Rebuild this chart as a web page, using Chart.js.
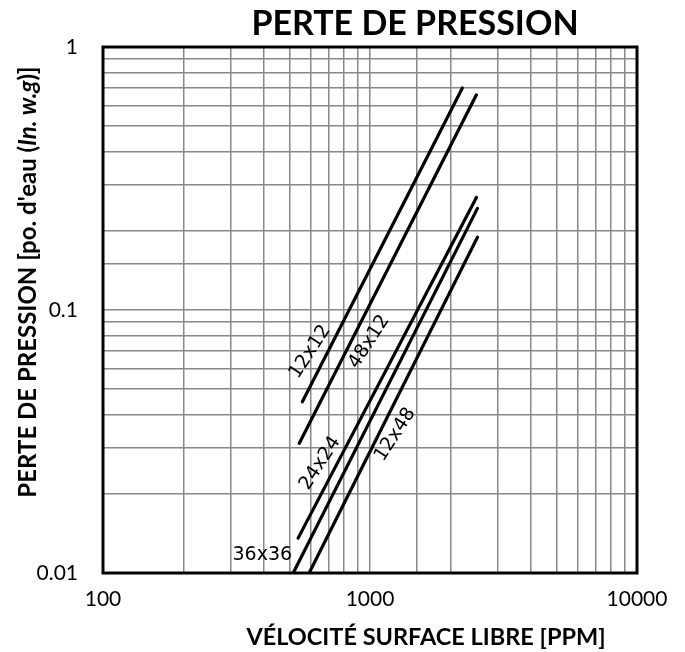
<!DOCTYPE html>
<html>
<head>
<meta charset="utf-8">
<title>Perte de pression</title>
<script src="https://cdn.jsdelivr.net/npm/chart.js"></script>
<style>
    body { margin: 0; background: #fff; }
    #wrap { width: 685px; height: 652px; }
</style>
</head>
<body>
<div id="wrap"><canvas id="chart" width="685" height="652"></canvas></div>
<script>
// each filter size is a straight line on the log-log grid: start and end points
const sizes = ['12x12', '48x12', '24x24', '36x36', '12x48'];
const velStart = [558, 543, 538, 500, 570];      // PPM
const velEnd = [2218, 2504, 2504, 2526, 2526];
const dropStart = [0.0448, 0.0311, 0.01357, 0.0094, 0.00927];  // in. w.g
const dropEnd = [0.699, 0.658, 0.268, 0.2434, 0.189];

// where the size labels sit (data units) and their rotation
const labelVel = [597, 994, 651, 395, 1244];
const labelDrop = [0.0693, 0.0757, 0.0261, 0.0117, 0.0336];
const labelAngle = [-57, -57, -57, 0, -57];

const xTicks = [100, 1000, 10000];
const yTicks = [0.01, 0.1, 1];

const datasets = sizes.map((s, i) => ({
    label: s,
    data: [{x: velStart[i], y: dropStart[i]}, {x: velEnd[i], y: dropEnd[i]}],
    borderColor: '#000',
    borderWidth: 3.2,
    borderCapStyle: 'round',
    pointRadius: 0,
    fill: false
}));

function pickLabel(list, v) {
    const t = list.find(t => Math.abs(v - t) / t < 1e-6);
    return t === undefined ? '' : String(t);
}

const annotate = {
    id: 'annotate',
    afterDraw(chart) {
        const { ctx, chartArea: a, scales: { x, y } } = chart;
        ctx.save();
        ctx.strokeStyle = '#000';
        ctx.lineWidth = 3;
        ctx.strokeRect(a.left, a.top, a.right - a.left, a.bottom - a.top);

        ctx.fillStyle = '#000';
        ctx.textAlign = 'center';
        ctx.textBaseline = 'middle';
        ctx.font = '19px "DejaVu Sans"';
        sizes.forEach((s, i) => {
            ctx.save();
            ctx.translate(x.getPixelForValue(labelVel[i]), y.getPixelForValue(labelDrop[i]));
            ctx.rotate(labelAngle[i] * Math.PI / 180);
            ctx.fillText(s, 0, 0);
            ctx.restore();
        });

        // chart title and axis titles
        ctx.font = 'bold 34px Lato';
        ctx.fillText('PERTE DE PRESSION', 415, 24);
        ctx.font = 'bold 23.5px Lato';
        ctx.fillText('VÉLOCITÉ SURFACE LIBRE [PPM]', 426, 637);

        const parts = [
            ['PERTE DE PRESSION [po. d\'eau (', 'bold 24px Lato'],
            ['In. w.g', 'italic bold 24px Lato'],
            [')]', 'bold 24px Lato']
        ];
        let total = 0;
        parts.forEach(p => { ctx.font = p[1]; total += ctx.measureText(p[0]).width; });
        ctx.translate(28, 282);
        ctx.rotate(-Math.PI / 2);
        ctx.textAlign = 'left';
        let cx = -total / 2;
        parts.forEach(p => {
            ctx.font = p[1];
            ctx.fillText(p[0], cx, 0);
            cx += ctx.measureText(p[0]).width;
        });
        ctx.restore();
    }
};

new Chart(document.getElementById('chart'), {
    type: 'line',
    data: { datasets: datasets },
    options: {
        responsive: false,
        animation: false,
        layout: { padding: { left: 0, top: 47, right: 48, bottom: 0 } },
        plugins: { legend: { display: false }, tooltip: { enabled: false } },
        scales: {
            x: {
                type: 'logarithmic',
                min: 100,
                max: 10000,
                afterFit: s => { s.height = 79; },
                border: { display: false },
                grid: { color: '#888', lineWidth: 1.5, drawTicks: false },
                ticks: {
                    autoSkip: false,
                    maxRotation: 0,
                    padding: 14,
                    color: '#000',
                    font: { family: 'Lato', size: 21 },
                    callback: v => pickLabel(xTicks, v)
                }
            },
            y: {
                type: 'logarithmic',
                min: 0.01,
                max: 1,
                afterFit: s => { s.width = 103; },
                border: { display: false },
                grid: { color: '#888', lineWidth: 1.5, drawTicks: false },
                ticks: {
                    autoSkip: false,
                    padding: 25,
                    color: '#000',
                    font: { family: 'Lato', size: 21 },
                    callback: v => pickLabel(yTicks, v)
                }
            }
        }
    },
    plugins: [annotate]
});
</script>
</body>
</html>
